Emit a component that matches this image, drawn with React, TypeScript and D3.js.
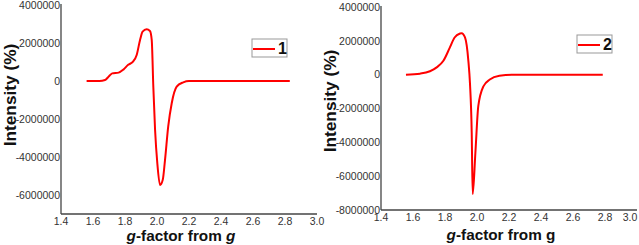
import React from 'react';
import * as d3 from 'd3';

// g-factor (x) and intensity in millions (y)
const gFactor1 = [1.56, 1.6, 1.64, 1.675, 1.7, 1.72, 1.76, 1.79, 1.82, 1.85, 1.873, 1.894, 1.91, 1.935, 1.956, 1.967, 1.977, 1.988, 2.002, 2.019, 2.036, 2.05, 2.07, 2.092, 2.123, 2.164, 2.2, 2.4, 2.6, 2.83];
const intensity1 = [0, 0, 0, 0.05, 0.25, 0.4, 0.44, 0.6, 0.85, 1.02, 1.37, 2.16, 2.6, 2.72, 2.63, 2.16, -0.3, -2.58, -4.33, -5.47, -5.2, -4.16, -2.4, -1.17, -0.3, -0.07, 0, 0, 0, 0];

const gFactor2 = [1.556, 1.644, 1.706, 1.748, 1.79, 1.83, 1.86, 1.894, 1.904, 1.925, 1.946, 1.956, 1.967, 1.973, 1.99, 2.008, 2.04, 2.08, 2.14, 2.22, 2.5, 2.786];
const intensity2 = [0, 0.06, 0.2, 0.43, 0.82, 1.6, 2.2, 2.43, 2.45, 2.2, 0.82, -0.5, -3.43, -7.06, -4.6, -1.86, -0.69, -0.29, -0.06, 0, 0, 0];

const xTicks = [1.4, 1.6, 1.8, 2.0, 2.2, 2.4, 2.6, 2.8, 3.0];
const yTicks1 = [-6000000, -4000000, -2000000, 0, 2000000, 4000000];
const yTicks2 = [-8000000, -6000000, -4000000, -2000000, 0, 2000000, 4000000];

const font = 'Arial, "Liberation Sans", sans-serif';

interface PanelProps {
  xs: number[];
  ys: number[];
  yTicks: number[];
  yDomain: [number, number];
  left: number;
  right: number;
  top: number;
  bottom: number;
  label: string;
  legend: { x: number; y: number };
  italicLastG: boolean;
  titleY: number;
  yTitleMid: number;
}

function Panel({ xs, ys, yTicks, yDomain, left, right, top, bottom, label, legend, italicLastG, titleY, yTitleMid }: PanelProps) {
  const x = d3.scaleLinear().domain([1.4, 3.0]).range([left, right]);
  const y = d3.scaleLinear().domain(yDomain).range([bottom, top]);

  const line = d3.line<number>()
    .x((_, i) => x(xs[i]))
    .y(d => y(d * 1e6))
    .curve(d3.curveMonotoneX);

  const midX = (left + right) / 2;

  return (
    <g>
      {/* axes */}
      <line x1={left} x2={left} y1={top - 1} y2={bottom} stroke="#444" strokeWidth={1.3} />
      <line x1={left} x2={right} y1={bottom} y2={bottom} stroke="#444" strokeWidth={1.3} />

      {yTicks.map(t => (
        <text key={t} x={left - 1} y={y(t)} dy="0.35em" textAnchor="end"
          fontSize={10.5} fill="#333" fontFamily={font}>{t}</text>
      ))}
      {xTicks.map(t => (
        // keep the last label inside the picture
        <text key={t} x={Math.min(x(t), 630)} y={bottom + 7} dy="0.35em" textAnchor="middle"
          fontSize={10.5} fill="#333" fontFamily={font}>{t.toFixed(1)}</text>
      ))}

      <path d={line(ys) ?? ''} fill="none" stroke="#ff0000" strokeWidth={2} strokeLinejoin="round" />

      {/* legend */}
      <rect x={legend.x} y={legend.y} width={35} height={18} fill="#fff" stroke="#999" strokeWidth={1} />
      <line x1={legend.x + 1} x2={legend.x + 23} y1={legend.y + 10} y2={legend.y + 10} stroke="#ff0000" strokeWidth={2} />
      <text x={legend.x + 26} y={legend.y + 9.5} dy="0.35em" fontSize={16} fontWeight="bold" fontFamily={font} fill="#111">{label}</text>

      {/* axis titles */}
      <text x={midX - 8} y={titleY} dy="0.35em" textAnchor="middle" fontSize={15.3} fontWeight="bold" fontFamily={font} fill="#111">
        <tspan fontStyle="italic">g</tspan>-factor from {italicLastG ? <tspan fontStyle="italic">g</tspan> : 'g'}
      </text>
      <text transform={`translate(${left - 51},${yTitleMid}) rotate(-90)`} dy="0.35em" textAnchor="middle"
        fontSize={17.3} fontWeight="bold" fontFamily={font} fill="#111">Intensity (%)</text>
    </g>
  );
}

export default function App() {
  return (
    <svg width={639} height={245} style={{ position: 'absolute', left: 0, top: 0, background: '#fff' }}>
      <Panel xs={gFactor1} ys={intensity1} yTicks={yTicks1} yDomain={[-7000000, 4000000]}
        left={61} right={317} top={5} bottom={214} label="1" legend={{ x: 252, y: 39 }} italicLastG
        titleY={236} yTitleMid={95} />
      <Panel xs={gFactor2} ys={intensity2} yTicks={yTicks2} yDomain={[-8000000, 4000000]}
        left={381} right={637} top={7} bottom={210} label="2" legend={{ x: 577, y: 35 }} italicLastG={false}
        titleY={235} yTitleMid={101} />
    </svg>
  );
}
